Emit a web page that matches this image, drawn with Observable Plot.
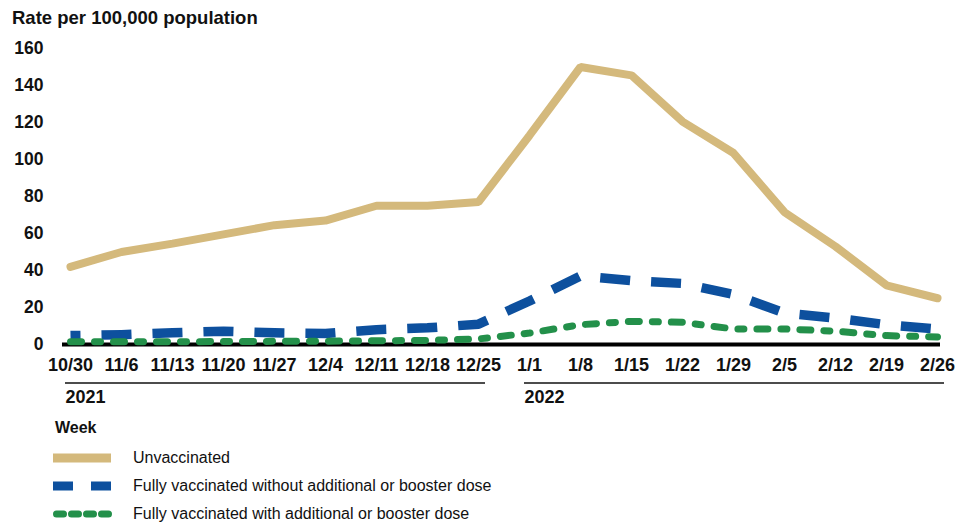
<!DOCTYPE html>
<html>
<head>
<meta charset="utf-8">
<script src="https://cdn.jsdelivr.net/npm/d3@7"></script>
<script src="https://cdn.jsdelivr.net/npm/@observablehq/plot@0.6"></script>
<style>
  html, body { margin: 0; padding: 0; background: #fff; overflow: hidden; }
  body { width: 972px; height: 522px; font-family: "Liberation Sans", Arial, sans-serif; color: #111; }
  #title { height: 36px; line-height: 36px; padding-left: 12px; font-size: 18.5px; font-weight: bold; }
  #chart { height: 380px; }
  #legend { padding-left: 53px; }
  #legend .head { height: 24px; line-height: 24px; font-size: 16px; font-weight: bold; padding-left: 2px; margin-bottom: 4px; }
  #legend .row { height: 28px; display: flex; align-items: center; font-size: 16px; }
  #legend .row svg { width: 80px; height: 12px; flex: none; }
</style>
</head>
<body>
<div id="title">Rate per 100,000 population</div>
<div id="chart"></div>
<div id="legend"></div>
<script>
const weeks = ["10/30","11/6","11/13","11/20","11/27","12/4","12/11","12/18","12/25","1/1","1/8","1/15","1/22","1/29","2/5","2/12","2/19","2/26"];
const unvaccinated = [42, 50, 54.5, 59.5, 64.5, 67, 75, 75, 77, 113, 150, 145.5, 120.5, 103.5, 71.5, 53, 32, 25];
const fullyNoBooster = [4.8, 5.3, 6.3, 7.2, 6.3, 6, 8, 9, 11, 23.5, 37, 34.5, 33, 27, 17, 14.3, 10.7, 8.4];
const fullyBooster = [1.5, 1.5, 1.5, 1.6, 1.7, 1.8, 2, 2.2, 3, 6.2, 10.7, 12.5, 12, 8.4, 8.4, 7.2, 4.8, 4.1];
const yTicks = [0, 20, 40, 60, 80, 100, 120, 140, 160];
const years = [
  {year: "2021", start: "10/30", end: "12/25"},
  {year: "2022", start: "1/1", end: "2/26"}
];
const seriesNames = [
  "Unvaccinated",
  "Fully vaccinated without additional or booster dose",
  "Fully vaccinated with additional or booster dose"
];
const colors = ["#D4B97C", "#0D509E", "#23904A"];

const toRows = (vals) => weeks.map((w, i) => ({week: w, value: vals[i]}));
const font = "'Liberation Sans', Arial, sans-serif";

const chart = Plot.plot({
  width: 972,
  height: 380,
  marginTop: 12,
  marginBottom: 72,
  marginLeft: 68,
  marginRight: 33,
  style: {fontFamily: font, color: "#111", background: "white", overflow: "visible"},
  x: {type: "point", domain: weeks, padding: 0, label: null},
  y: {domain: [0, 160], label: null},
  marks: [
    Plot.axisY({ticks: yTicks, tickSize: 0, tickPadding: 25, fontSize: 17.5, fontWeight: "bold", label: null}),
    Plot.axisX({tickSize: 0, tickPadding: 14, fontSize: 18, fontWeight: "bold", label: null}),
    Plot.ruleY([0], {stroke: "black", strokeWidth: 4, insetLeft: -6, insetRight: -1}),
    Plot.ruleY(years, {x1: "start", x2: "end", y: () => 0, dy: 38.5, stroke: "#111", strokeWidth: 1.5, insetLeft: -5, insetRight: -7}),
    Plot.text(years, {x: "start", y: () => 0, text: "year", dy: 52.5, dx: -5, textAnchor: "start", fontSize: 18, fontWeight: "bold", fill: "#111"}),
    Plot.line(toRows(fullyNoBooster), {x: "week", y: "value", stroke: colors[1], strokeWidth: 9.5, strokeDasharray: "30,21", strokeDashoffset: 20, strokeLinecap: "butt"}),
    Plot.line(toRows(fullyBooster), {x: "week", y: "value", stroke: colors[2], strokeWidth: 7, strokeDasharray: "11,13,6,13", strokeLinecap: "round"}),
    Plot.line(toRows(unvaccinated), {x: "week", y: "value", stroke: colors[0], strokeWidth: 8, strokeLinejoin: "miter"})
  ]
});
document.getElementById("chart").appendChild(chart);

// legend
const legend = document.getElementById("legend");
const head = document.createElement("div");
head.className = "head";
head.textContent = "Week";
legend.appendChild(head);
const swatches = [
  `<line x1="0" x2="58" y1="6" y2="6" stroke="${colors[0]}" stroke-width="9"/>`,
  `<line x1="0" x2="58" y1="6" y2="6" stroke="${colors[1]}" stroke-width="9" stroke-dasharray="20,18"/>`,
  `<line x1="3.5" x2="58" y1="6" y2="6" stroke="${colors[2]}" stroke-width="7" stroke-dasharray="7,8" stroke-linecap="round"/>`
];
seriesNames.forEach((name, i) => {
  const row = document.createElement("div");
  row.className = "row";
  row.innerHTML = `<svg viewBox="0 0 80 12">${swatches[i]}</svg><span>${name}</span>`;
  legend.appendChild(row);
});
</script>
</body>
</html>
